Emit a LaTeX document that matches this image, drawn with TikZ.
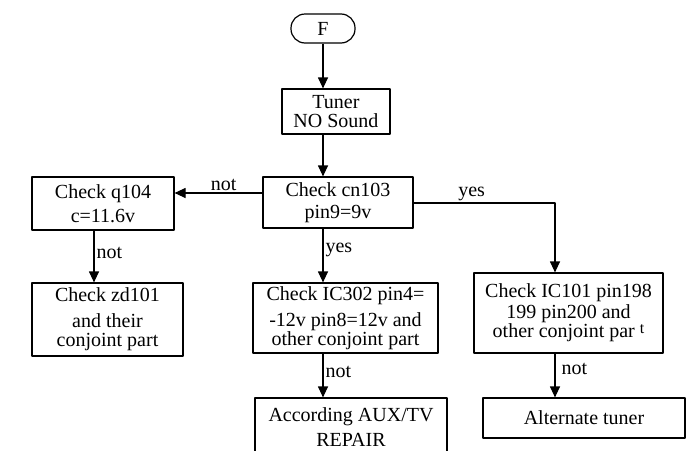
\documentclass[tikz,border=0pt]{standalone}
\usepackage{fontspec}
\setmainfont{Liberation Serif}
\usetikzlibrary{arrows.meta}
\tikzset{
	box/.style={draw, align=center, inner sep=0pt},
	term/.style={box, rounded corners=7pt},
	lbl/.style={inner sep=1pt}
}
\begin{document}
\begin{tikzpicture}[x=0.5pt, y=-0.5pt, font=\fontsize{10}{10}\selectfont, line width=0.6pt, line join=round, >={Triangle[width=5pt,length=5.5pt]}]
		\useasboundingbox (0,0) rectangle (690,450);
		\clip (0,0) rectangle (690,450);
		% boxes
		\node[term, minimum width=32pt, minimum height=14.5pt] (F) at (323,28.5) {F};
		\node[box, minimum width=54pt, minimum height=22.5pt] (tuner) at (336,111.5) {Tuner\\[-0.5pt]NO Sound};
		\node[box, minimum width=75pt, minimum height=25.5pt] (cn103) at (338,202.5) {Check cn103\\[1pt]pin9=9v};
		\node[box, minimum width=71pt, minimum height=26.5pt] (q104) at (103,203.5) {Check q104\\[2pt]c=11.6v};
		\node[box, minimum width=75.5pt, minimum height=36.5pt] (zd101) at (107.5,319.5) {Check zd101\\[3pt]and their\\[-0.5pt]conjoint part};
		\node[box, minimum width=92.5pt, minimum height=35pt] (IC302) at (345.5,318) {Check IC302 pin4=\\[3pt]-12v pin8=12v and\\[-0.5pt]other conjoint part};
		\node[box, minimum width=94.5pt, minimum height=40pt] (IC101) at (568.5,313) {Check IC101 pin198\\[0.5pt]199 pin200 and\\[-0.5pt]other conjoint par {\footnotesize\raisebox{2pt}{t}}};
		\node[box, minimum width=101pt, minimum height=20pt] (alt) at (584,418) {Alternate tuner};
		\node[box, minimum width=96pt, minimum height=29pt] (aux) at (351,427) {According AUX/TV\\[2.5pt]REPAIR};
		% turning points
		\coordinate (cnL) at ([yshift=4.75pt]cn103.west);
		\coordinate (turn) at (555,203);
		\coordinate (qB) at (94,230);
		% arrows
		\draw[->] (F) -- (F |- tuner.north);
		\draw[->] (F |- tuner.south) -- (F |- cn103.north);
		\draw[->] (cnL) -- node[lbl, above, pos=0.44] {not} (cnL -| q104.east);
		\draw[->] (cn103.east |- turn) -- node[lbl, above, pos=0.41] {yes} (turn) -- (turn |- IC101.north);
		\draw[->] (F |- cn103.south) -- node[lbl, right, pos=0.4] {yes} (F |- IC302.north);
		\draw[->] (qB |- q104.south) -- node[lbl, right, pos=0.44] {not} (qB |- zd101.north);
		\draw[->] (F |- IC302.south) -- node[lbl, right, pos=0.41] {not} (F |- aux.north);
		\draw[->] (turn |- IC101.south) -- node[lbl, right, pos=0.36, inner sep=3pt] {not} (turn |- alt.north);
\end{tikzpicture}
\end{document}
